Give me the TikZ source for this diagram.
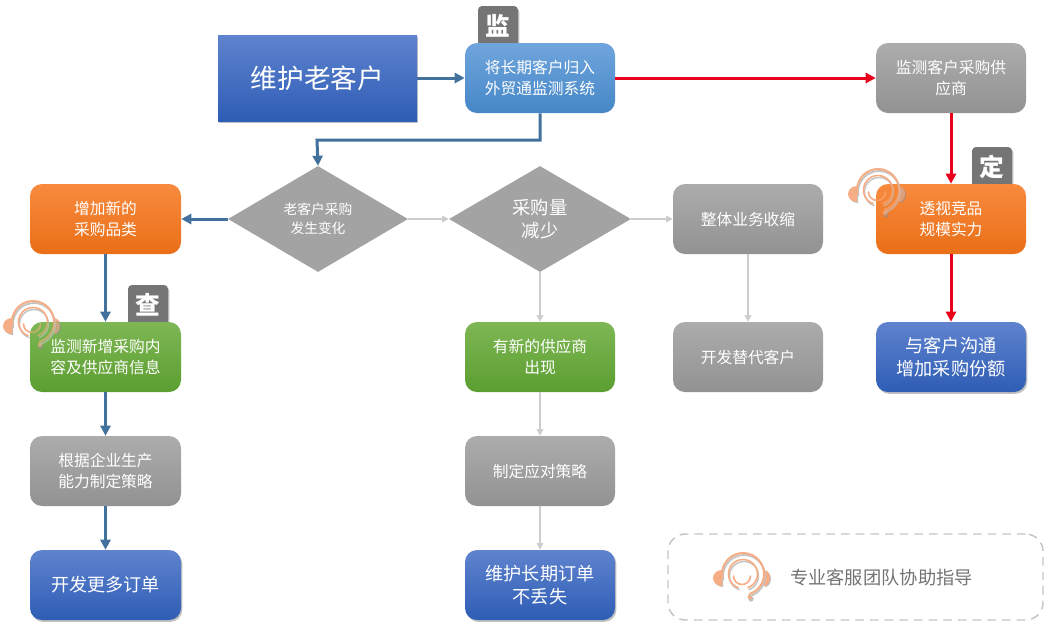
\documentclass[tikz,border=0pt]{standalone}
\usepackage{fontspec}
\setmainfont{Noto Sans CJK SC}
\usetikzlibrary{shapes.geometric,shadows,arrows.meta}
\definecolor{flowblue}{HTML}{41719C}
\definecolor{flowred}{HTML}{E8001C}
\definecolor{flowgray}{HTML}{CDCDCD}
\definecolor{earorange}{HTML}{F6AD85}
\definecolor{ringgray}{HTML}{C4C4C4}
\tikzset{
  x=0.75pt,y=-0.75pt,
  softshadow/.style={drop shadow={shadow xshift=1pt,shadow yshift=-1.4pt,opacity=.35,fill=black!70}},
  box/.style={rectangle,rounded corners=9pt,minimum width=112.5pt,minimum height=52.5pt,inner sep=0pt,
    align=center,text=white,font=\fontsize{11.8pt}{15.3pt}\selectfont},
  bluebox/.style={box,top color=blue1,bottom color=blue2,softshadow,font=\fontsize{13.6pt}{17.3pt}\selectfont},
  skybox/.style={box,top color=sky1,bottom color=sky2},
  graybox/.style={box,top color=gray1,bottom color=gray2},
  orangebox/.style={box,top color=orange1,bottom color=orange2},
  greenbox/.style={box,top color=green1,bottom color=green2},
  decision/.style={diamond,aspect=1.7,minimum width=135pt,minimum height=79.5pt,inner sep=0pt,fill=gray3,
    align=center,text=white},
  badge/.style={rectangle,rounded corners=3pt,minimum width=30pt,minimum height=30pt,inner sep=0pt,
    fill=badgegray,text=white,softshadow,font=\fontsize{18.5pt}{20pt}\selectfont\bfseries},
  bluearrow/.style={draw=flowblue,line width=2.25pt,-{Triangle[length=7.5pt,width=7.5pt]}},
  redarrow/.style={draw=flowred,line width=2.25pt,-{Triangle[length=7.5pt,width=7.5pt]}},
  grayarrow/.style={draw=flowgray,line width=.9pt,-{Triangle[length=5pt,width=5pt]}},
  pics/headrings/.style={code={
    \begin{scope}[x=.75pt,y=.75pt]
    \begin{scope}[shift={(1,-2)}]
      \draw[ringgray,line width=1.4pt,line cap=round] (190:21) arc[start angle=190,end angle=-72,radius=21];
      \draw[ringgray,line width=1.1pt,line cap=round] (250:14.5) arc[start angle=250,end angle=-70,radius=14.5];
    \end{scope}
    \draw[earorange,line width=1.5pt,line cap=round] (190:21) arc[start angle=190,end angle=-72,radius=21];
    \draw[earorange,line width=1.2pt,line cap=round] (250:14.5) arc[start angle=250,end angle=-70,radius=14.5];
    \draw[earorange,line width=1.2pt,line cap=round] (-9.5,-2) arc[start angle=180,end angle=360,radius=8.5];
    \end{scope}
  }},
  pics/headpads/.style={code={
    \begin{scope}[x=.75pt,y=.75pt]
    \fill[black!45,opacity=.55] (-20,3) arc[start angle=90,end angle=270,x radius=9,y radius=8] -- cycle;
    \fill[black!45,opacity=.55] (22,3) arc[start angle=90,end angle=-90,x radius=6,y radius=8] -- cycle;
    \fill[earorange] (-21,4) arc[start angle=90,end angle=270,x radius=9,y radius=8] -- cycle;
    \fill[earorange] (21,4) arc[start angle=90,end angle=-90,x radius=6,y radius=8] -- cycle;
    \fill[black!45,opacity=.55] (8,-25) circle[radius=2.6];
    \fill[earorange] (7,-23) circle[radius=2.4];
    \end{scope}
  }}
}
\definecolor{blue1}{HTML}{5F83CE}
\definecolor{blue2}{HTML}{2E5DB5}
\definecolor{sky1}{HTML}{70A5DD}
\definecolor{sky2}{HTML}{4587C7}
\definecolor{gray1}{HTML}{ACACAC}
\definecolor{gray2}{HTML}{929292}
\definecolor{gray3}{HTML}{A3A3A3}
\definecolor{badgegray}{HTML}{757575}
\definecolor{orange1}{HTML}{F88A3E}
\definecolor{orange2}{HTML}{E96F17}
\definecolor{green1}{HTML}{7EB755}
\definecolor{green2}{HTML}{5B9E30}
\begin{document}
\begin{tikzpicture}
\useasboundingbox (0,0) rectangle (1063,637);
% badges behind boxes
\node[badge] (bj) at (498,26) {监};
\node[badge] (bc) at (148,305) {查};
\node[badge] (bd) at (992,167) {定};
% headsets behind boxes
\pic at (33,322) {headpads};
\pic at (33,322) {headrings};
\pic at (878,190) {headpads};
\pic at (878,190) {headrings};
% boxes
\node[rectangle,minimum width=149.25pt,minimum height=64.5pt,inner sep=0pt,top color=blue1,bottom color=blue2,softshadow,
  text=white,font=\fontsize{20pt}{24pt}\selectfont] (main) at (317.5,78) {维护老客户};
\node[skybox] (watch) at (540,78) {将长期客户归入\\外贸通监测系统};
\node[graybox] (supplier) at (951,78) {监测客户采购供\\应商};
\node[orangebox,minimum width=113.25pt] (cat) at (105.5,219) {增加新的\\采购品类};
\node[decision,font=\fontsize{10.3pt}{14pt}\selectfont] (d1) at (318,219) {老客户采购\\发生变化};
\node[decision,minimum width=136.5pt,font=\fontsize{13.7pt}{17.3pt}\selectfont] (d2) at (540,219) {采购量\\减少};
\node[graybox] (shrink) at (748,219) {整体业务收缩};
\node[orangebox] (scale) at (951,219) {透视竞品\\规模实力};
\node[greenbox,minimum width=113.25pt] (newcat) at (105.5,357) {监测新增采购内\\容及供应商信息};
\node[greenbox] (newsup) at (540,357) {有新的供应商\\出现};
\node[graybox] (alt) at (748,357) {开发替代客户};
\node[bluebox] (share) at (951,357) {与客户沟通\\增加采购份额};
\node[graybox,minimum width=113.25pt] (plan) at (105.5,471) {根据企业生产\\能力制定策略};
\node[graybox] (resp) at (540,471) {制定应对策略};
\node[bluebox,minimum width=113.25pt] (more) at (105.5,585) {开发更多订单};
\node[bluebox] (keep) at (540,585) {维护长期订单\\不丢失};
% faint headset lines seen through the boxes
\begin{scope}[opacity=.6]
  \clip (newcat.north west) rectangle (newcat.south east);
  \pic at (33,322) {headpads};
  \pic at (33,322) {headrings};
\end{scope}
\begin{scope}[opacity=.6]
  \clip (scale.north west) rectangle (scale.south east);
  \pic at (878,190) {headpads};
  \pic at (878,190) {headrings};
\end{scope}
% connectors
\coordinate (bend) at (317,140);
\draw[bluearrow] (main.east) -- (watch.west);
\draw[redarrow] (watch.east) -- (supplier.west);
\draw[bluearrow] (watch.south) |- (bend) -- (d1.north);
\draw[bluearrow] (d1.west) -- (cat.east);
\draw[grayarrow] (d1.east) -- (d2.west);
\draw[grayarrow] (d2.east) -- (shrink.west);
\draw[grayarrow] (d2.south) -- (newsup.north);
\draw[grayarrow] (newsup.south) -- (resp.north);
\draw[grayarrow] (resp.south) -- (keep.north);
\draw[grayarrow] (shrink.south) -- (alt.north);
\draw[redarrow] (supplier.south) -- (scale.north);
\draw[redarrow] (scale.south) -- (share.north);
\draw[bluearrow] (cat.south) -- (newcat.north);
\draw[bluearrow] (newcat.south) -- (plan.north);
\draw[bluearrow] (plan.south) -- (more.north);
% legend
\node[rectangle,rounded corners=13pt,draw=ringgray,line width=1.1pt,dash pattern=on 6.5pt off 4.5pt,
  minimum width=281.25pt,minimum height=64.5pt,inner sep=0pt] (legend) at (855.5,577) {};
\pic at (743,574) {headpads};
\pic at (743,574) {headrings};
\node[text=black!55,font=\fontsize{13.7pt}{16pt}\selectfont,inner sep=0pt] (legendtext) at (881.5,577) {专业客服团队协助指导};
\end{tikzpicture}
\end{document}
